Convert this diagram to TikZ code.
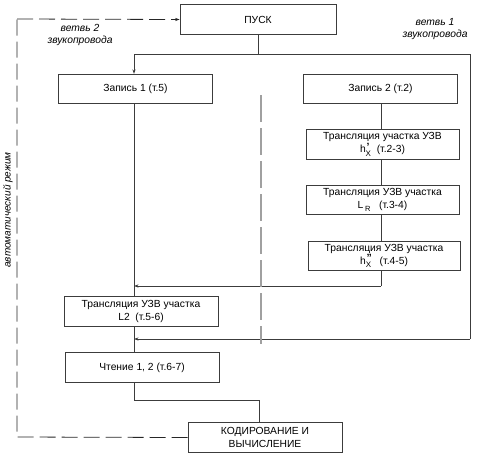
\documentclass[tikz,border=0pt]{standalone}
\usepackage{fontspec}
\setmainfont{Liberation Sans}
\usetikzlibrary{arrows.meta,positioning}
\definecolor{LineGray}{RGB}{60,60,60}
\definecolor{MidGray}{RGB}{160,160,160}
\tikzset{
    blk/.style={draw=LineGray, line width=0.8pt, minimum width=154pt, minimum height=29.5pt, inner sep=1pt, align=center, font=\fontsize{10.3}{13}\selectfont},
    conn/.style={draw=LineGray, line width=0.8pt},
    arr/.style={conn, -{Stealth[length=4.5pt,width=3.2pt]}},
    autoline/.style={draw=black!85, line width=0.8pt, dash pattern=on 16pt off 6pt},
    lbl/.style={font=\fontsize{10.3}{12}\selectfont\itshape, align=center},
}
\newcommand{\hsub}[1]{h\rlap{\hspace{0.8pt}\raisebox{0.45ex}{\fontsize{10.5}{10}\selectfont\bfseries #1}}\raisebox{-0.65ex}{\fontsize{8}{8}\selectfont X}}
\begin{document}
\begin{tikzpicture}[x=1pt,y=-1pt]
\useasboundingbox (0,0) rectangle (478,458);
% boxes
\node[blk, minimum width=156pt] (start) at (258,19.5) {ПУСК};
\node[blk] (rec1) at (135.5,89) {Запись 1 (т.5)};
\node[blk] (rec2) at (380.5,89) {Запись 2 (т.2)};
\node[blk, minimum width=153pt] (trA) at (382.5,144.5) {Трансляция участка УЗВ\\\hsub{'}\ \ (т.2-3)};
\node[blk, minimum width=153pt] (trB) at (382.5,200) {Трансляция УЗВ участка\\L\,\raisebox{-0.5ex}{\fontsize{7.5}{8}\selectfont R}\ \ \ (т.3-4)};
\node[blk, minimum width=152pt] (trC) at (384,256) {Трансляция УЗВ участка\\\hsub{''}\ \ \ (т.4-5)};
\node[blk] (trL) at (141,311.5) {Трансляция УЗВ участка\\L2\ \ (т.5-6)};
\node[blk] (read) at (142,367.5) {Чтение 1, 2 (т.6-7)};
\node[blk] (code) at (265,437.5) {КОДИРОВАНИЕ И\\ВЫЧИСЛЕНИЕ};

% branch points
\coordinate (splitL) at (134,54);
\coordinate (splitR) at (470,54);
\coordinate (loopR) at (470,339);
\coordinate (joinA) at (134,286);
\coordinate (joinB) at (134,339);
\coordinate (turnR) at (381,286);
\coordinate (downL) at (134,400);
\coordinate (downR) at (259,400);
\coordinate (autoT) at (17,19);
\coordinate (autoB) at (17,437);

% connectors
\draw[conn] (start.south) -- (start.south |- splitL);
\draw[conn] (splitL) -- (splitR);
\draw[arr] (splitL) -- (rec1.north -| splitL);
\draw[conn] (rec2.north -| turnR) -- (rec2.north -| turnR |- splitL);
\draw[conn] (rec2.south -| turnR) -- (trA.north -| turnR);
\draw[conn] (trA.south -| turnR) -- (trB.north -| turnR);
\draw[conn] (trB.south -| turnR) -- (trC.north -| turnR);
\draw[conn] (trC.south -| turnR) -- (turnR);
\draw[arr] (turnR) -- (joinA);
\draw[conn] (rec1.south -| splitL) -- (trL.north -| splitL);
\draw[conn] (splitR) -- (loopR);
\draw[arr] (loopR) -- (joinB);
\draw[conn] (trL.south -| splitL) -- (read.north -| splitL);
\draw[conn] (read.south -| splitL) -- (downL) -- (downR) -- (code.north -| downR);
\draw[autoline] (code.west) -- (autoB) -- (autoT);
\draw[autoline, -{Stealth[length=4.5pt,width=3.2pt]}] (autoT) -- (start.west);
\draw[MidGray, line width=1.5pt, dash pattern=on 27pt off 6pt] (261,95) -- (261,344);

% labels
\node[lbl] (br2) at (80,35) {ветвь 2\\звукопровода};
\node[lbl] (br1) at (435,29.5) {ветвь 1\\звукопровода};
\node[lbl, rotate=90, font=\fontsize{10}{12}\selectfont\itshape] (auto) at (8,210) {автоматический режим};
\end{tikzpicture}
\end{document}
